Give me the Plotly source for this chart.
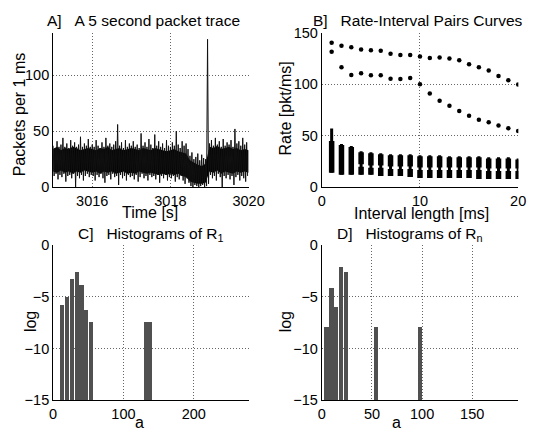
import plotly.graph_objects as go

W, H = 543, 438
FONT = "Liberation Sans, Arial, sans-serif"

# ---------------- Panel A: packet trace ----------------
trace_t0 = 3015.0
trace_dt = 0.05          # spike samples
core_dt = 0.1            # core band samples
spike_hi = [37, 35, 41, 36, 38, 44, 36, 39, 35, 42, 37, 40, 36, 38, 45, 36, 39, 37, 43, 36,
            38, 36, 42, 37, 35, 40, 36, 44, 37, 39, 36, 38, 41, 56, 37, 40, 35, 42, 36, 39,
            37, 41, 36, 38, 35, 48, 37, 40, 36, 43, 38, 35, 47, 37, 41, 36, 39, 35, 42, 37,
            36, 40, 37, 50, 38, 35, 41, 37, 39, 34, 28, 31, 25, 27, 30, 24, 29, 26, 25, 132,
            39, 42, 37, 44, 38, 41, 36, 43, 37, 40, 38, 42, 36, 52, 39, 41, 37, 44, 38, 40]
spike_lo = [10, 12, 7, 11, 9, 12, 5, 10, 11, 8, 12, 0, 10, 8, 11, 6, 10, 12, 9, 11,
            10, 6, 11, 9, 12, 8, 4, 10, 11, 7, 12, 9, 10, 2, 11, 8, 10, 6, 11, 9,
            10, 7, 11, 5, 9, 12, 8, 10, 6, 11, 9, 10, 7, 11, 4, 10, 8, 11, 6, 9,
            8, 10, 5, 9, 7, 10, 6, 3, 8, 4, 1, 0, 2, 1, 0, 1, 2, 0, 1, 3,
            11, 8, 10, 6, 12, 9, 0, 10, 8, 11, 7, 10, 2, 9, 11, 6, 10, 8, 5, 10]
core_hi = [34, 36, 33, 35, 34, 36, 35, 33, 34, 35,
           34, 33, 35, 34, 36, 33, 34, 35, 33, 34,
           35, 34, 33, 35, 34, 33, 35, 34, 33, 32,
           33, 34, 32, 31, 30, 24, 22, 20, 19, 21,
           36, 35, 37, 34, 35, 36, 34, 35, 33, 34, 33]
core_lo = [14, 13, 15, 13, 14, 12, 14, 13, 15, 14,
           13, 14, 12, 14, 13, 14, 12, 13, 14, 12,
           13, 12, 14, 13, 12, 13, 12, 11, 12, 11,
           12, 11, 12, 10, 9, 5, 4, 3, 3, 4,
           14, 13, 15, 12, 14, 13, 12, 14, 13, 14, 13]

# ---------------- Panel B: rate-interval pairs ----------------
intervals = list(range(1, 21))
curve_top = [140.3, 137.5, 136, 133.7, 133, 132.5, 129.7, 128.4, 128.4, 126.9,
             125.6, 126, 125, 123.4, 119.4, 116.6, 113.4, 108, 104, 99.7]
curve_second = [131.6, 116.6, 109, 110.6, 108.8, 108.8, 105.3, 105, 106, 100,
                91, 84, 79, 74, 69.4, 65.6, 63, 60, 57.2, 54.7]
col_hi = [57, 42, 40, 35, 34, 33, 32, 32, 32, 31, 31, 31, 30, 30, 30, 30, 29, 29, 29, 28]
col_dense_hi = [45, 41, 39, 34, 33, 32, 31, 31, 31, 30, 30, 30, 29, 29, 29, 29, 28, 28, 28, 27]
col_lo = [14, 12, 12, 12, 12, 11, 11, 11, 10, 9, 9, 9, 9, 9, 9, 8, 8, 8, 8, 8]
col_waist = [None, None, None, 21, 20, 20, 19, 19, 19, 18, 18, 18, 18, 18, 18, 18, 17, 17, 17, 17]

# ---------------- Panel C / D: histograms ----------------
hist_base = -15
r1_centers = [13.0, 19.9, 26.7, 33.6, 40.4, 47.2, 54.1, 131.9, 138.0]
r1_logs = [-5.8, -4.97, -3.23, -2.55, -3.8, -6.27, -7.39, -7.39, -7.39]
rn_centers = [4.6, 9.4, 14.3, 19.1, 23.9, 53.8, 97.5]
rn_logs = [-7.9, -4.14, -5.97, -2.12, -2.55, -7.9, -7.9]

fig = go.Figure()

# A
xs, ys = [], []
for i, (h, l) in enumerate(zip(spike_hi, spike_lo)):
    t = trace_t0 + trace_dt * i
    xs += [t, t + trace_dt / 2]
    ys += [h, l]
core_t = [trace_t0 + core_dt * i for i in range(len(core_hi))]
fig.add_trace(go.Scatter(x=core_t, y=core_lo, mode="lines", line=dict(width=0, color="black"),
                         xaxis="x", yaxis="y", showlegend=False, hoverinfo="skip"))
fig.add_trace(go.Scatter(x=core_t, y=core_hi, mode="lines", line=dict(width=0, color="black"),
                         fill="tonexty", fillcolor="black",
                         xaxis="x", yaxis="y", showlegend=False, hoverinfo="skip"))
fig.add_trace(go.Scatter(x=xs, y=ys, mode="lines", line=dict(width=1, color="#111"),
                         xaxis="x", yaxis="y", showlegend=False))

# B
thin_x, thin_y, thick_x, thick_y = [], [], [], []
for x, hi, dh, lo, w in zip(intervals, col_hi, col_dense_hi, col_lo, col_waist):
    thin_x += [x, x, None]
    thin_y += [lo, hi, None]
    if w is None:
        thick_x += [x, x, None]
        thick_y += [lo, dh, None]
    else:
        thick_x += [x, x, None, x, x, None]
        thick_y += [lo, w - 1.2, None, w + 1.2, dh, None]
fig.add_trace(go.Scatter(x=thin_x, y=thin_y, mode="lines", line=dict(width=3, color="black"),
                         xaxis="x2", yaxis="y2", showlegend=False))
fig.add_trace(go.Scatter(x=thick_x, y=thick_y, mode="lines", line=dict(width=5.5, color="black"),
                         xaxis="x2", yaxis="y2", showlegend=False))
for curve in (curve_top, curve_second):
    fig.add_trace(go.Scatter(x=intervals, y=curve, mode="markers",
                             marker=dict(size=4.5, color="black", symbol="circle"),
                             xaxis="x2", yaxis="y2", showlegend=False))

# C
fig.add_trace(go.Bar(x=r1_centers, y=[v - hist_base for v in r1_logs], base=hist_base,
                     width=6.0, marker=dict(color="#505050", line=dict(width=0)),
                     xaxis="x3", yaxis="y3", showlegend=False))
# D
fig.add_trace(go.Bar(x=rn_centers, y=[v - hist_base for v in rn_logs], base=hist_base,
                     width=4.3, marker=dict(color="#505050", line=dict(width=0)),
                     xaxis="x4", yaxis="y4", showlegend=False))


def dom_x(a, b):
    return [a / W, b / W]


def dom_y(top, bottom):
    return [1 - bottom / H, 1 - top / H]


axis_common = dict(showline=True, linecolor="black", linewidth=1, mirror=False,
                   showgrid=True, gridcolor="#666666", griddash="1px,2px", gridwidth=1,
                   zeroline=False, ticks="", tickfont=dict(size=14.5, color="black", family=FONT))

layout = dict(
    width=W, height=H, margin=dict(l=0, r=0, t=0, b=0),
    paper_bgcolor="white", plot_bgcolor="white", showlegend=False,
    font=dict(family=FONT, size=14, color="black"),
    xaxis=dict(domain=dom_x(51, 254), range=[3015, 3020.001], tickvals=[3016, 3018, 3020],
               anchor="y", **axis_common),
    yaxis=dict(domain=dom_y(25.5, 186), range=[0, 138], tickvals=[0, 50, 100],
               anchor="x", **axis_common),
    xaxis2=dict(domain=dom_x(330, 534), range=[0, 20.02], tickvals=[0, 10, 20],
                anchor="y2", **axis_common),
    yaxis2=dict(domain=dom_y(25.5, 186), range=[0, 150.2], tickvals=[0, 50, 100, 150],
                anchor="x2", **axis_common),
    xaxis3=dict(domain=dom_x(51, 254), range=[0, 278], tickvals=[0, 100, 200],
                anchor="y3", **axis_common),
    yaxis3=dict(domain=dom_y(246, 407), range=[-15, 0.03], tickvals=[-15, -10, -5, 0],
                anchor="x3", **axis_common),
    xaxis4=dict(domain=dom_x(330, 534), range=[0, 196], tickvals=[0, 50, 100, 150],
                anchor="y4", **axis_common),
    yaxis4=dict(domain=dom_y(246, 407), range=[-15, 0.03], tickvals=[-15, -10, -5, 0],
                anchor="x4", **axis_common),
    bargap=0,
)
fig.update_layout(**layout)

sp = "\u00a0\u00a0\u00a0"


def ann(text, px, py, size=15.5, angle=0):
    fig.add_annotation(text=text, x=px / W, y=1 - py / H, xref="paper", yref="paper",
                       showarrow=False, xanchor="center", yanchor="middle", textangle=angle,
                       font=dict(size=size, family=FONT, color="black"))


ann("A]" + sp + "A 5 second packet trace", 145, 13)
ann("B]" + sp + "Rate-Interval Pairs Curves", 430, 13)
ann("C]" + sp + "Histograms of R<sub>1</sub>", 153, 235)
ann("D]" + sp + "Histograms of R<sub>n</sub>", 422, 235)
ann("Time [s]", 152, 212, size=16)
ann("Interval length [ms]", 433, 213, size=16)
ann("Packets per 1 ms", 17, 110, size=16, angle=-90)
ann("Rate [pkt/ms]", 292, 104, size=16, angle=-90)
ann("log", 27, 326, size=16, angle=-90)
ann("log", 292, 326, size=16, angle=-90)
ann("a", 141, 430, size=16)
ann("a", 408, 430, size=16)

fig.write_html("out.html")
